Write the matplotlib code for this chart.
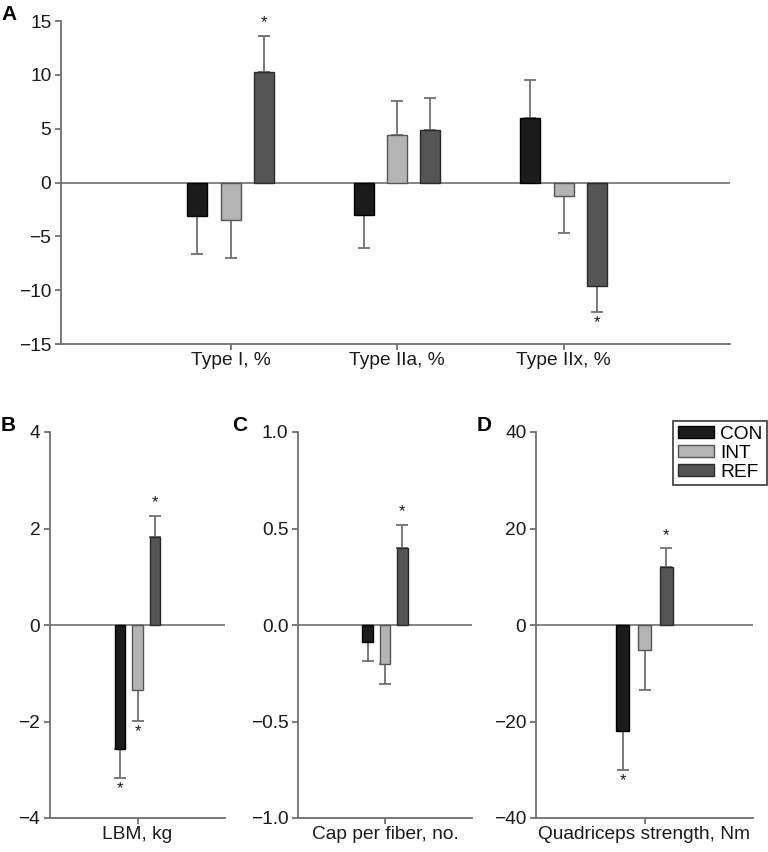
import numpy as np
import matplotlib
matplotlib.use("Agg")
import matplotlib.pyplot as plt
from matplotlib.patches import Patch

plt.rcParams["font.family"] = ["Liberation Sans", "DejaVu Sans"]

GROUPS = ["CON", "INT", "REF"]
COLORS = ["#1b1b1b", "#b4b4b4", "#555555"]
EDGES = ["#000000", "#555555", "#2a2a2a"]

# Panel A: fibre type change (%)
A_CATS = ["Type I, %", "Type IIa, %", "Type IIx, %"]
A_MEAN = {"CON": [-3.1, -3.0, 6.0],
          "INT": [-3.5, 4.4, -1.25],
          "REF": [10.3, 4.85, -9.6]}
A_ERR = {"CON": [3.55, 3.1, 3.5],
         "INT": [3.5, 3.15, 3.4],
         "REF": [3.3, 3.0, 2.45]}
A_SIG = {"CON": [False, False, False],
         "INT": [False, False, False],
         "REF": [True, False, True]}

# Panels B-D: one category each
B_CAT, B_MEAN, B_ERR, B_SIG = "LBM, kg", [-2.57, -1.35, 1.83], [0.61, 0.64, 0.43], [True, True, True]
C_CAT, C_MEAN, C_ERR, C_SIG = "Cap per fiber, no.", [-0.088, -0.203, 0.40], [0.097, 0.103, 0.12], [False, False, True]
D_CAT, D_MEAN, D_ERR, D_SIG = "Quadriceps strength, Nm", [-22.0, -5.1, 12.0], [8.0, 8.4, 3.9], [True, False, True]

AXIS_GRAY = "#707070"
FS = 13.8
OFFSETS = [-0.2, 0.0, 0.2]
BAR_W = 0.12


def style_axes(ax):
    for sp in ("top", "right"):
        ax.spines[sp].set_visible(False)
    for sp in ("left", "bottom"):
        ax.spines[sp].set_color(AXIS_GRAY)
        ax.spines[sp].set_linewidth(1.3)
    ax.tick_params(axis="both", colors=AXIS_GRAY, labelcolor="#1a1a1a",
                   labelsize=FS, length=4, width=1.3, direction="out")
    ax.tick_params(axis="y", pad=3)
    ax.tick_params(axis="x", pad=2)
    ax.axhline(0, color=AXIS_GRAY, lw=1.2, zorder=1)


def draw_group(ax, xpos, means, errs, sigs):
    for g in range(3):
        x = xpos + OFFSETS[g]
        m, e = means[g], errs[g]
        ax.bar(x, m, width=BAR_W, color=COLORS[g], edgecolor=EDGES[g],
               linewidth=1.0, zorder=3)
        lo, hi = (0, e) if m >= 0 else (e, 0)
        ax.errorbar(x, m, yerr=[[lo], [hi]], fmt="none", ecolor=AXIS_GRAY,
                    elinewidth=1.3, capsize=4, capthick=1.3, zorder=2)
        if sigs[g]:
            tip = m + e if m >= 0 else m - e
            dy = 4 if m >= 0 else -13
            ax.annotate("*", (x, tip), xytext=(0, dy), textcoords="offset points",
                        ha="center", va="bottom", fontsize=12, color="#1a1a1a")


fig = plt.figure(figsize=(7.68, 8.52), dpi=100)
W, H = 768, 852


def add_axes(l, r, t, b):
    return fig.add_axes([l / W, 1 - b / H, (r - l) / W, (b - t) / H])


# Panel A
axA = add_axes(61, 730, 21, 344)
style_axes(axA)
for i, cat in enumerate(A_CATS):
    draw_group(axA, i + 1,
               [A_MEAN[g][i] for g in GROUPS],
               [A_ERR[g][i] for g in GROUPS],
               [A_SIG[g][i] for g in GROUPS])
axA.set_xlim(-0.02, 4)
axA.set_ylim(-15, 15)
axA.set_yticks([-15, -10, -5, 0, 5, 10, 15])
axA.set_yticklabels(["\u221215", "\u221210", "\u22125", "0", "5", "10", "15"])
axA.set_xticks([1, 2, 3])
axA.set_xticklabels(A_CATS)

# Panels B, C, D
panels = [
    (add_axes(50, 225, 432, 818), B_CAT, B_MEAN, B_ERR, B_SIG, (-4, 4),
     [-4, -2, 0, 2, 4], ["\u22124", "\u22122", "0", "2", "4"]),
    (add_axes(298, 472, 432, 818), C_CAT, C_MEAN, C_ERR, C_SIG, (-1, 1),
     [-1, -0.5, 0, 0.5, 1], ["\u22121.0", "\u22120.5", "0.0", "0.5", "1.0"]),
    (add_axes(536, 753, 432, 818), D_CAT, D_MEAN, D_ERR, D_SIG, (-40, 40),
     [-40, -20, 0, 20, 40], ["\u221240", "\u221220", "0", "20", "40"]),
]
for ax, cat, means, errs, sigs, ylim, yt, ytl in panels:
    style_axes(ax)
    draw_group(ax, 1, means, errs, sigs)
    ax.set_xlim(0, 2)
    ax.set_ylim(*ylim)
    ax.set_yticks(yt)
    ax.set_yticklabels(ytl)
    ax.set_xticks([1])
    ax.set_xticklabels([cat])

# Panel letters
for lab, x, y in [("A", 1, 15), ("B", 1, 425), ("C", 232, 425), ("D", 477, 425)]:
    fig.text(x / W, 1 - y / H, lab, fontsize=15, fontweight="bold",
             ha="left", va="center")

handles = [Patch(facecolor=COLORS[g], edgecolor=EDGES[g], label=GROUPS[g])
           for g in range(3)]
fig.legend(handles=handles, loc="upper right",
           bbox_to_anchor=(767 / W, 1 - 421 / H), fontsize=FS,
           frameon=True, fancybox=False, edgecolor="#1a1a1a",
           handlelength=1.9, handleheight=0.55, labelspacing=0.1,
           borderpad=0.25, handletextpad=0.3, borderaxespad=0)
fig.legends[0].get_frame().set_linewidth(1.3)

fig.savefig("out.png", dpi=100, facecolor="white")
